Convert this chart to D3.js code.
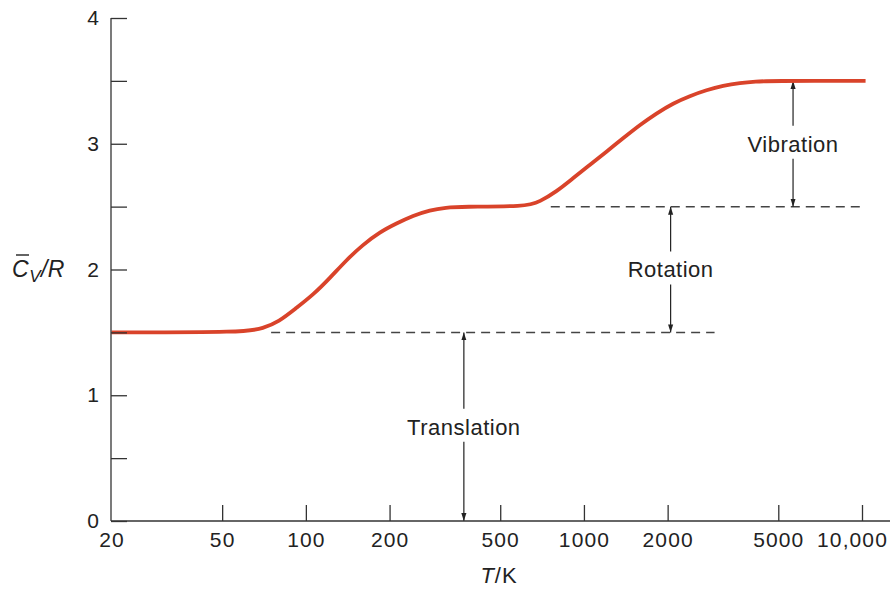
<!DOCTYPE html>
<html>
<head>
<meta charset="utf-8">
<script src="https://cdn.jsdelivr.net/npm/d3@7"></script>
<style>
  body { margin: 0; background: #fff; }
  svg { display: block; font-family: "Liberation Sans", Arial, sans-serif; }
</style>
</head>
<body>
<div id="chart"></div>
<script>
// temperatures (K) and heat capacity Cv/R
const temps = [20, 61, 70, 80, 92, 106, 122, 140, 160, 184, 212, 243, 279, 320, 360,
               620, 693, 796, 913, 1049, 1205, 1382, 1588, 1824, 2093, 2404, 2760, 3168, 3637, 4177, 4600, 10300];
const cvValues = [1.5, 1.5, 1.532, 1.585, 1.691, 1.797, 1.932, 2.076, 2.195, 2.296, 2.367, 2.428, 2.473, 2.493, 2.5,
                  2.5, 2.539, 2.619, 2.725, 2.831, 2.937, 3.043, 3.149, 3.242, 3.322, 3.38, 3.427, 3.462, 3.483, 3.495, 3.5, 3.5];

const xTicks = [20, 50, 100, 200, 500, 1000, 2000, 5000, 10000];
const yTicks = [0, 0.5, 1, 1.5, 2, 2.5, 3, 3.5, 4];

// dashed reference levels: [level, from T, to T]
const levels = [[1.5, 75, 2950], [2.5, 760, 10300]];
// arrows: [T, from, to, label, label position]
const arrows = [
  [370, 0, 1.5, "Translation", 0.75],
  [2050, 1.5, 2.5, "Rotation", 2.0],
  [5650, 2.5, 3.5, "Vibration", 3.0]
];

const width = 892, height = 589;
const x = d3.scaleLog().domain([20, 10000]).range([111.5, 862]);
const y = d3.scaleLinear().domain([0, 4]).range([521, 18]);

const svg = d3.select("#chart").append("svg")
  .attr("width", width)
  .attr("height", height);

svg.append("defs").append("marker")
  .attr("id", "head")
  .attr("viewBox", "0 0 10 10")
  .attr("refX", 10).attr("refY", 5)
  .attr("markerWidth", 8).attr("markerHeight", 8)
  .attr("markerUnits", "userSpaceOnUse")
  .attr("orient", "auto")
  .append("path")
  .attr("d", "M0,1.8 L10,5 L0,8.2 Z")
  .attr("fill", "#222");

// dashed lines
svg.selectAll(".level")
  .data(levels)
  .enter().append("line")
  .attr("x1", d => x(d[1]))
  .attr("x2", d => x(d[2]))
  .attr("y1", d => y(d[0]))
  .attr("y2", d => y(d[0]))
  .attr("stroke", "#444")
  .attr("stroke-width", 1.5)
  .attr("stroke-dasharray", "9,6");

// arrows with label in the middle
const ag = svg.selectAll(".arrow")
  .data(arrows)
  .enter().append("g");

ag.append("line")
  .attr("x1", d => x(d[0])).attr("x2", d => x(d[0]))
  .attr("y1", d => y(d[4]) - 18)
  .attr("y2", d => y(d[2]))
  .attr("stroke", "#222").attr("stroke-width", 1.2)
  .attr("marker-end", "url(#head)");

ag.append("line")
  .attr("x1", d => x(d[0])).attr("x2", d => x(d[0]))
  .attr("y1", d => y(d[4]) + 15)
  .attr("y2", d => y(d[1]))
  .attr("stroke", "#222").attr("stroke-width", 1.2)
  .attr("marker-end", "url(#head)");

ag.append("text")
  .attr("x", d => x(d[0]))
  .attr("y", d => y(d[4]))
  .attr("dy", "0.36em")
  .attr("text-anchor", "middle")
  .attr("font-size", 22)
  .attr("letter-spacing", 0.5)
  .attr("fill", "#222")
  .text(d => d[3]);

// curve
const line = d3.line()
  .x((d, i) => x(temps[i]))
  .y(d => y(d))
  .curve(d3.curveBasis);

svg.append("path")
  .attr("d", line(cvValues))
  .attr("fill", "none")
  .attr("stroke", "#d9432a")
  .attr("stroke-width", 3.8);

// axes
const xAxis = svg.append("g")
  .attr("transform", `translate(0,${y(0)})`)
  .call(d3.axisBottom(x)
    .tickValues(xTicks)
    .tickSize(-16)
    .tickPadding(11)
    .tickFormat(d => d === 10000 ? "10,000" : d3.format("d")(d)));
xAxis.select(".domain").remove();
xAxis.selectAll(".tick").filter(d => d === 20).select("line").remove();
xAxis.selectAll(".tick").filter(d => d === 10000).select("text").attr("dx", -10);
xAxis.append("line")
  .attr("x1", 111).attr("x2", 890)
  .attr("stroke", "#333").attr("stroke-width", 1.3);

const yAxis = svg.append("g")
  .attr("transform", "translate(111,0)")
  .call(d3.axisLeft(y)
    .tickValues(yTicks)
    .tickSize(-16)
    .tickPadding(11)
    .tickFormat(d => Number.isInteger(d) ? d : ""));
yAxis.select(".domain").remove();
yAxis.append("line")
  .attr("y1", y(0)).attr("y2", y(4))
  .attr("stroke", "#333").attr("stroke-width", 1.3);

svg.selectAll(".tick line").attr("stroke", "#333").attr("stroke-width", 1.3);
svg.selectAll(".tick text")
  .attr("font-size", 21)
  .attr("letter-spacing", 1.1)
  .attr("fill", "#222");
svg.selectAll("g").attr("font-family", null).attr("font-size", null);

// axis titles
svg.append("text")
  .attr("x", 499)
  .attr("y", 583)
  .attr("text-anchor", "middle")
  .attr("font-size", 22)
  .attr("letter-spacing", 1)
  .attr("fill", "#222")
  .html('<tspan font-style="italic">T</tspan>/K');

const yl = svg.append("text")
  .attr("x", 12)
  .attr("y", 277)
  .attr("font-size", 23)
  .attr("letter-spacing", 0.5)
  .attr("fill", "#222")
  .attr("font-style", "italic");
yl.append("tspan").text("C");
yl.append("tspan").attr("font-size", 17).attr("dy", 5).text("V");
yl.append("tspan").attr("dy", -5).text("/R");
svg.append("line")
  .attr("x1", 16).attr("x2", 29)
  .attr("y1", 255).attr("y2", 255)
  .attr("stroke", "#222").attr("stroke-width", 1.4);
</script>
</body>
</html>
